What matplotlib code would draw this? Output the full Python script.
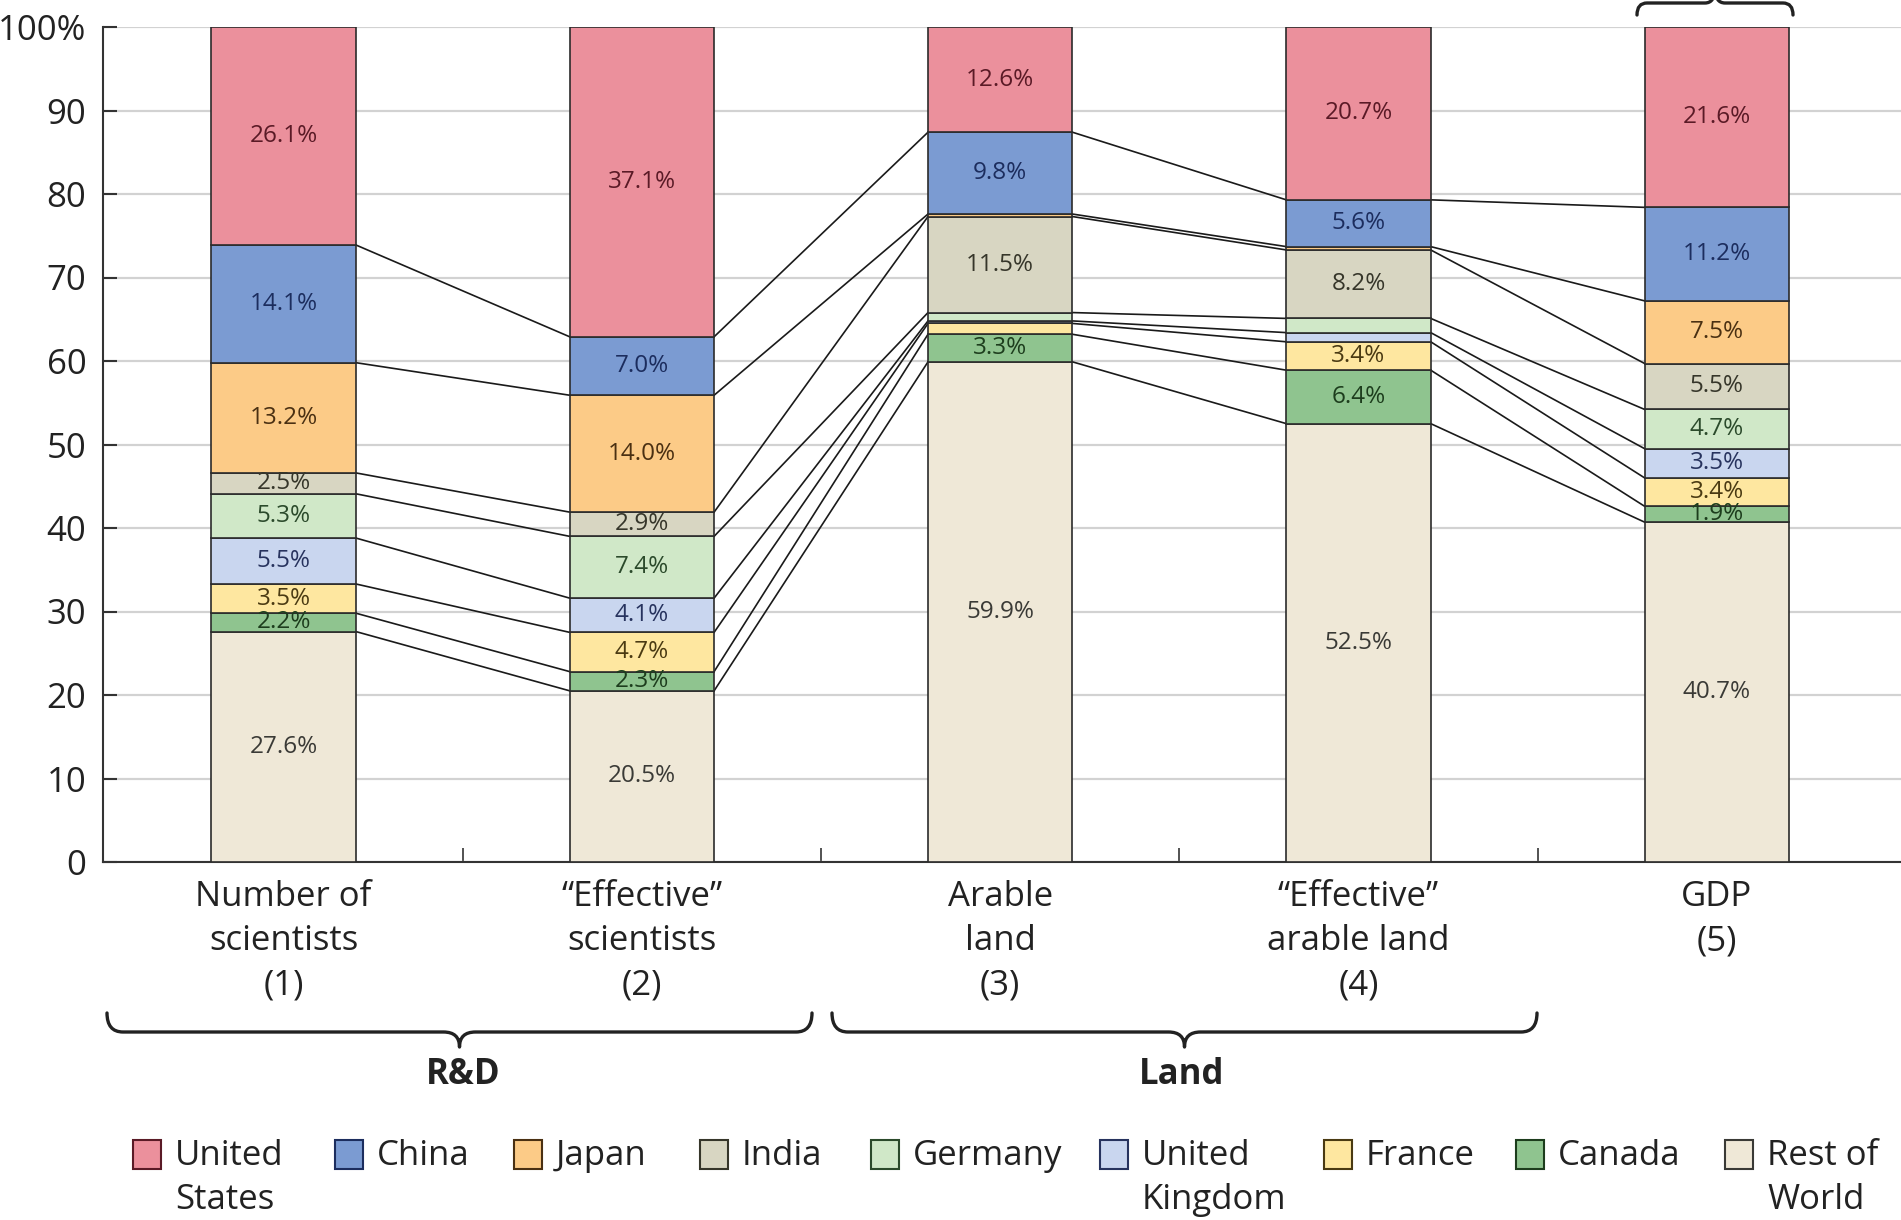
import numpy as np
import matplotlib
matplotlib.use("Agg")
import matplotlib.pyplot as plt
from matplotlib.path import Path
from matplotlib.patches import PathPatch, Rectangle

plt.rcParams['font.family'] = ['Open Sans', 'DejaVu Sans']

categories = ['Number of\nscientists\n(1)', '\u201cEffective\u201d\nscientists\n(2)',
              'Arable\nland\n(3)', '\u201cEffective\u201d\narable land\n(4)', 'GDP\n(5)']

# shares (%) per column, stacked from the bottom up
countries = ['Rest of\nWorld', 'Canada', 'France', 'United\nKingdom', 'Germany',
             'India', 'Japan', 'China', 'United\nStates']
rest_of_world = [27.6, 20.5, 59.9, 52.5, 40.7]
canada = [2.2, 2.3, 3.3, 6.4, 1.9]
france = [3.5, 4.7, 1.3, 3.4, 3.4]
uk = [5.5, 4.1, 0.3, 1.1, 3.5]
germany = [5.3, 7.4, 1.0, 1.7, 4.7]
india = [2.5, 2.9, 11.5, 8.2, 5.5]
japan = [13.2, 14.0, 0.3, 0.4, 7.5]
china = [14.1, 7.0, 9.8, 5.6, 11.2]
united_states = [26.1, 37.1, 12.6, 20.7, 21.6]

series = [rest_of_world, canada, france, uk, germany, india, japan, china, united_states]
fills = ['#efe8d7', '#8fc48f', '#fee7a0', '#c9d6ef', '#d0e8c8',
         '#d8d6c2', '#fccb87', '#7b9bd2', '#eb909c']
inks = ['#3a3a36', '#1d3d1d', '#4a3a12', '#27335e', '#2b4a2b',
        '#36362a', '#4a3012', '#1c2d5e', '#5a1a26']

W, H = 1901, 1220
fig = plt.figure(figsize=(W / 100, H / 100), dpi=100)
ax = fig.add_axes([103 / W, 1 - 862 / H, 1 - 103 / W, (862 - 27) / H])

x = np.arange(len(categories))
width = 0.403
bottom = np.zeros(len(categories))
tops = []
for vals, fc, ink in zip(series, fills, inks):
    vals = np.array(vals)
    ax.bar(x, vals, width, bottom=bottom, color=fc, edgecolor='#2b2b2b',
           linewidth=1.2, zorder=3)
    for xi, b, v in zip(x, bottom, vals):
        if v >= 1.8:
            ax.text(xi, b + v / 2, f'{v:.1f}%', ha='center', va='center',
                    fontsize=17.5, color=ink, zorder=4)
    bottom = bottom + vals
    tops.append(bottom.copy())

# connector lines between neighbouring columns
for t in tops[:-1]:
    for i in range(len(categories) - 1):
        ax.plot([x[i] + width / 2, x[i + 1] - width / 2], [t[i], t[i + 1]],
                color='#1a1a1a', lw=1.2, zorder=2)

ax.set_xlim(-0.504, 4.514)
ax.set_ylim(0, 100)
ax.set_yticks(np.arange(0, 101, 10))
ax.set_yticklabels([str(v) for v in range(0, 100, 10)] + ['100%'])
ax.yaxis.grid(True, color='#d2d2d2', lw=1.6, zorder=0)
ax.set_axisbelow(True)
ax.tick_params(axis='y', direction='in', length=10, width=1.5, color='#333333',
               labelsize=25, pad=12, labelcolor='#222222')

ax.set_xticks(x)
ax.set_xticklabels(categories, fontsize=25, color='#222222', linespacing=1.4)
ax.set_xticks(x[:-1] + 0.5, minor=True)
ax.tick_params(axis='x', which='major', length=0, pad=13)
ax.tick_params(axis='x', which='minor', direction='in', length=10, width=1.3,
               color='#444444')

for s in ['top', 'right']:
    ax.spines[s].set_visible(False)
for s in ['left', 'bottom']:
    ax.spines[s].set_color('#333333')
    ax.spines[s].set_linewidth(1.5)


def bracket(x0, x1, y_end, y_bar, y_tip, r):
    xc = (x0 + x1) / 2
    pts = [(x0, y_end), (x0, y_bar), (x0 + r, y_bar),
           (xc - r, y_bar), (xc, y_bar), (xc, y_tip),
           (xc, y_bar), (xc + r, y_bar),
           (x1 - r, y_bar), (x1, y_bar), (x1, y_end)]
    codes = [Path.MOVETO, Path.CURVE3, Path.CURVE3,
             Path.LINETO, Path.CURVE3, Path.CURVE3,
             Path.CURVE3, Path.CURVE3,
             Path.LINETO, Path.CURVE3, Path.CURVE3]
    pts = [(px / W, 1 - py / H) for px, py in pts]
    fig.patches.append(PathPatch(Path(pts, codes), transform=fig.transFigure,
                                 fill=False, lw=2.4, ec='#222222',
                                 capstyle='round', joinstyle='round'))


bracket(107, 812, 1013, 1032, 1047, 16)
bracket(832, 1537, 1013, 1032, 1047, 16)
bracket(1637, 1793, 15, 3, -12, 10)

fig.text(463 / W, 1 - 1075 / H, 'R&D', ha='center', va='center',
         fontsize=25, fontweight='bold', color='#222222')
fig.text(1182 / W, 1 - 1075 / H, 'Land', ha='center', va='center',
         fontsize=25, fontweight='bold', color='#222222')

# legend row, left to right
legend_order = [8, 7, 6, 5, 4, 3, 2, 1, 0]
box_x = [133, 335, 514, 700, 871, 1100, 1324, 1516, 1725]
for k, bx in zip(legend_order, box_x):
    fig.patches.append(Rectangle((bx / W, 1 - 1169 / H), 28 / W, 29 / H,
                                 transform=fig.transFigure, fc=fills[k],
                                 ec=inks[k], lw=1.5))
    fig.text((bx + 42) / W, 1 - 1139 / H, countries[k], ha='left', va='top',
             fontsize=25, color='#222222', linespacing=1.4)

fig.savefig('out.png', dpi=100)
